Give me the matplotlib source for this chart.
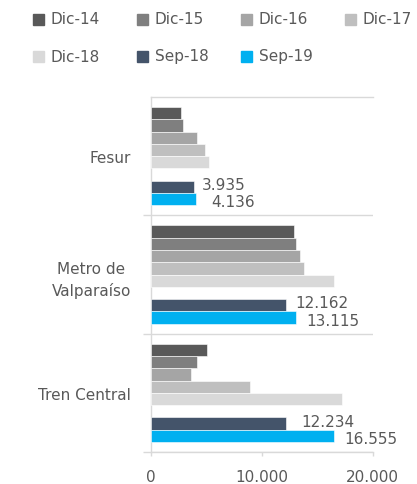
import matplotlib.pyplot as plt
from matplotlib.patches import Rectangle
from matplotlib.ticker import FuncFormatter

CATEGORIES = ["Fesur", "Metro de\nValparaíso", "Tren Central"]
SERIES = ["Dic-14", "Dic-15", "Dic-16", "Dic-17", "Dic-18", "Sep-18", "Sep-19"]
COLORS = ["#595959", "#7f7f7f", "#a5a5a5", "#bfbfbf", "#d9d9d9", "#44546a", "#00b0f0"]
# values per series, order matches CATEGORIES
VALUES = {
    "Dic-14": [2750, 12930, 5050],
    "Dic-15": [2890, 13110, 4150],
    "Dic-16": [4150, 13470, 3610],
    "Dic-17": [4870, 13830, 8980],
    "Dic-18": [5230, 16500, 17250],
    "Sep-18": [3935, 12162, 12234],
    "Sep-19": [4136, 13115, 16555],
}
LABELED = ["Sep-18", "Sep-19"]
XTICKS = [0, 10000, 20000]

TXT = "#595959"
GRID = "#d9d9d9"
FS = 11

W, H = 417, 485


def fmt_num(v, _pos=None):
    return f"{v:,.0f}".replace(",", ".")


def main():
    plt.rcParams["font.family"] = ["DejaVu Sans"]
    fig = plt.figure(figsize=(W / 100, H / 100), dpi=100)
    ax = fig.add_axes([150.5 / W, 32 / H, 222.2 / W, 355 / H])

    n = len(CATEGORIES)
    slot = 0.104
    # slot index per series; slot 5 is left empty
    slots = [0, 1, 2, 3, 4, 6, 7]
    centers = [n - 0.5 - i for i in range(n)]
    # label offsets in pixels (dx per category, dy per series)
    label_dx = {"Sep-18": [8, 10, 15], "Sep-19": [15, 10, 10]}
    label_dy = {"Sep-18": 2.5, "Sep-19": -2.5}

    for s, col, k in zip(SERIES, COLORS, slots):
        ys = [c + 4 * slot - slot * (k + 0.5) for c in centers]
        bars = ax.barh(ys, VALUES[s], height=slot, color=col,
                       edgecolor="white", linewidth=0.4, zorder=3)
        if s in LABELED:
            for j, (b, v) in enumerate(zip(bars, VALUES[s])):
                ax.annotate(fmt_num(v), (v, b.get_y() + b.get_height() / 2),
                            xytext=(label_dx[s][j] * 0.72, label_dy[s] * 0.72),
                            textcoords="offset points",
                            ha="left", va="center", fontsize=FS, color=TXT)

    ax.set_xlim(0, 20000)
    ax.set_ylim(0, n)
    ax.set_xticks(XTICKS)
    ax.xaxis.set_major_formatter(FuncFormatter(fmt_num))
    ax.tick_params(axis="x", length=3, width=1, color=GRID, direction="out",
                   labelsize=FS, labelcolor=TXT, pad=9)

    ax.set_yticks([0, 1, 2])
    ax.set_yticklabels([])
    ax.set_yticks(centers, minor=True)
    ax.set_yticklabels(CATEGORIES, minor=True)
    ax.tick_params(axis="y", which="major", length=6, width=1, color=GRID)
    ax.tick_params(axis="y", which="minor", length=0, labelsize=FS,
                   labelcolor=TXT, pad=14)
    for lbl in ax.get_yticklabels(minor=True):
        lbl.set_linespacing(1.5)
        lbl.set_multialignment("center")

    ax.yaxis.grid(True, which="major", color=GRID, linewidth=1, zorder=0)
    for side in ["left", "top", "bottom"]:
        ax.spines[side].set_color(GRID)
        ax.spines[side].set_linewidth(1)
    ax.spines["right"].set_visible(False)

    # legend, 4 columns, drawn by hand
    for i, (s, col) in enumerate(zip(SERIES, COLORS)):
        r, c = divmod(i, 4)
        x0 = 33 + 104 * c
        yc = 20 + 37 * r
        fig.patches.append(Rectangle((x0 / W, 1 - (yc + 5.5) / H), 11 / W, 11 / H,
                                     transform=fig.transFigure, color=col))
        fig.text((x0 + 18) / W, 1 - yc / H, s, ha="left", va="center",
                 fontsize=FS, color=TXT)

    fig.savefig("out.png", dpi=100)


if __name__ == "__main__":
    main()
